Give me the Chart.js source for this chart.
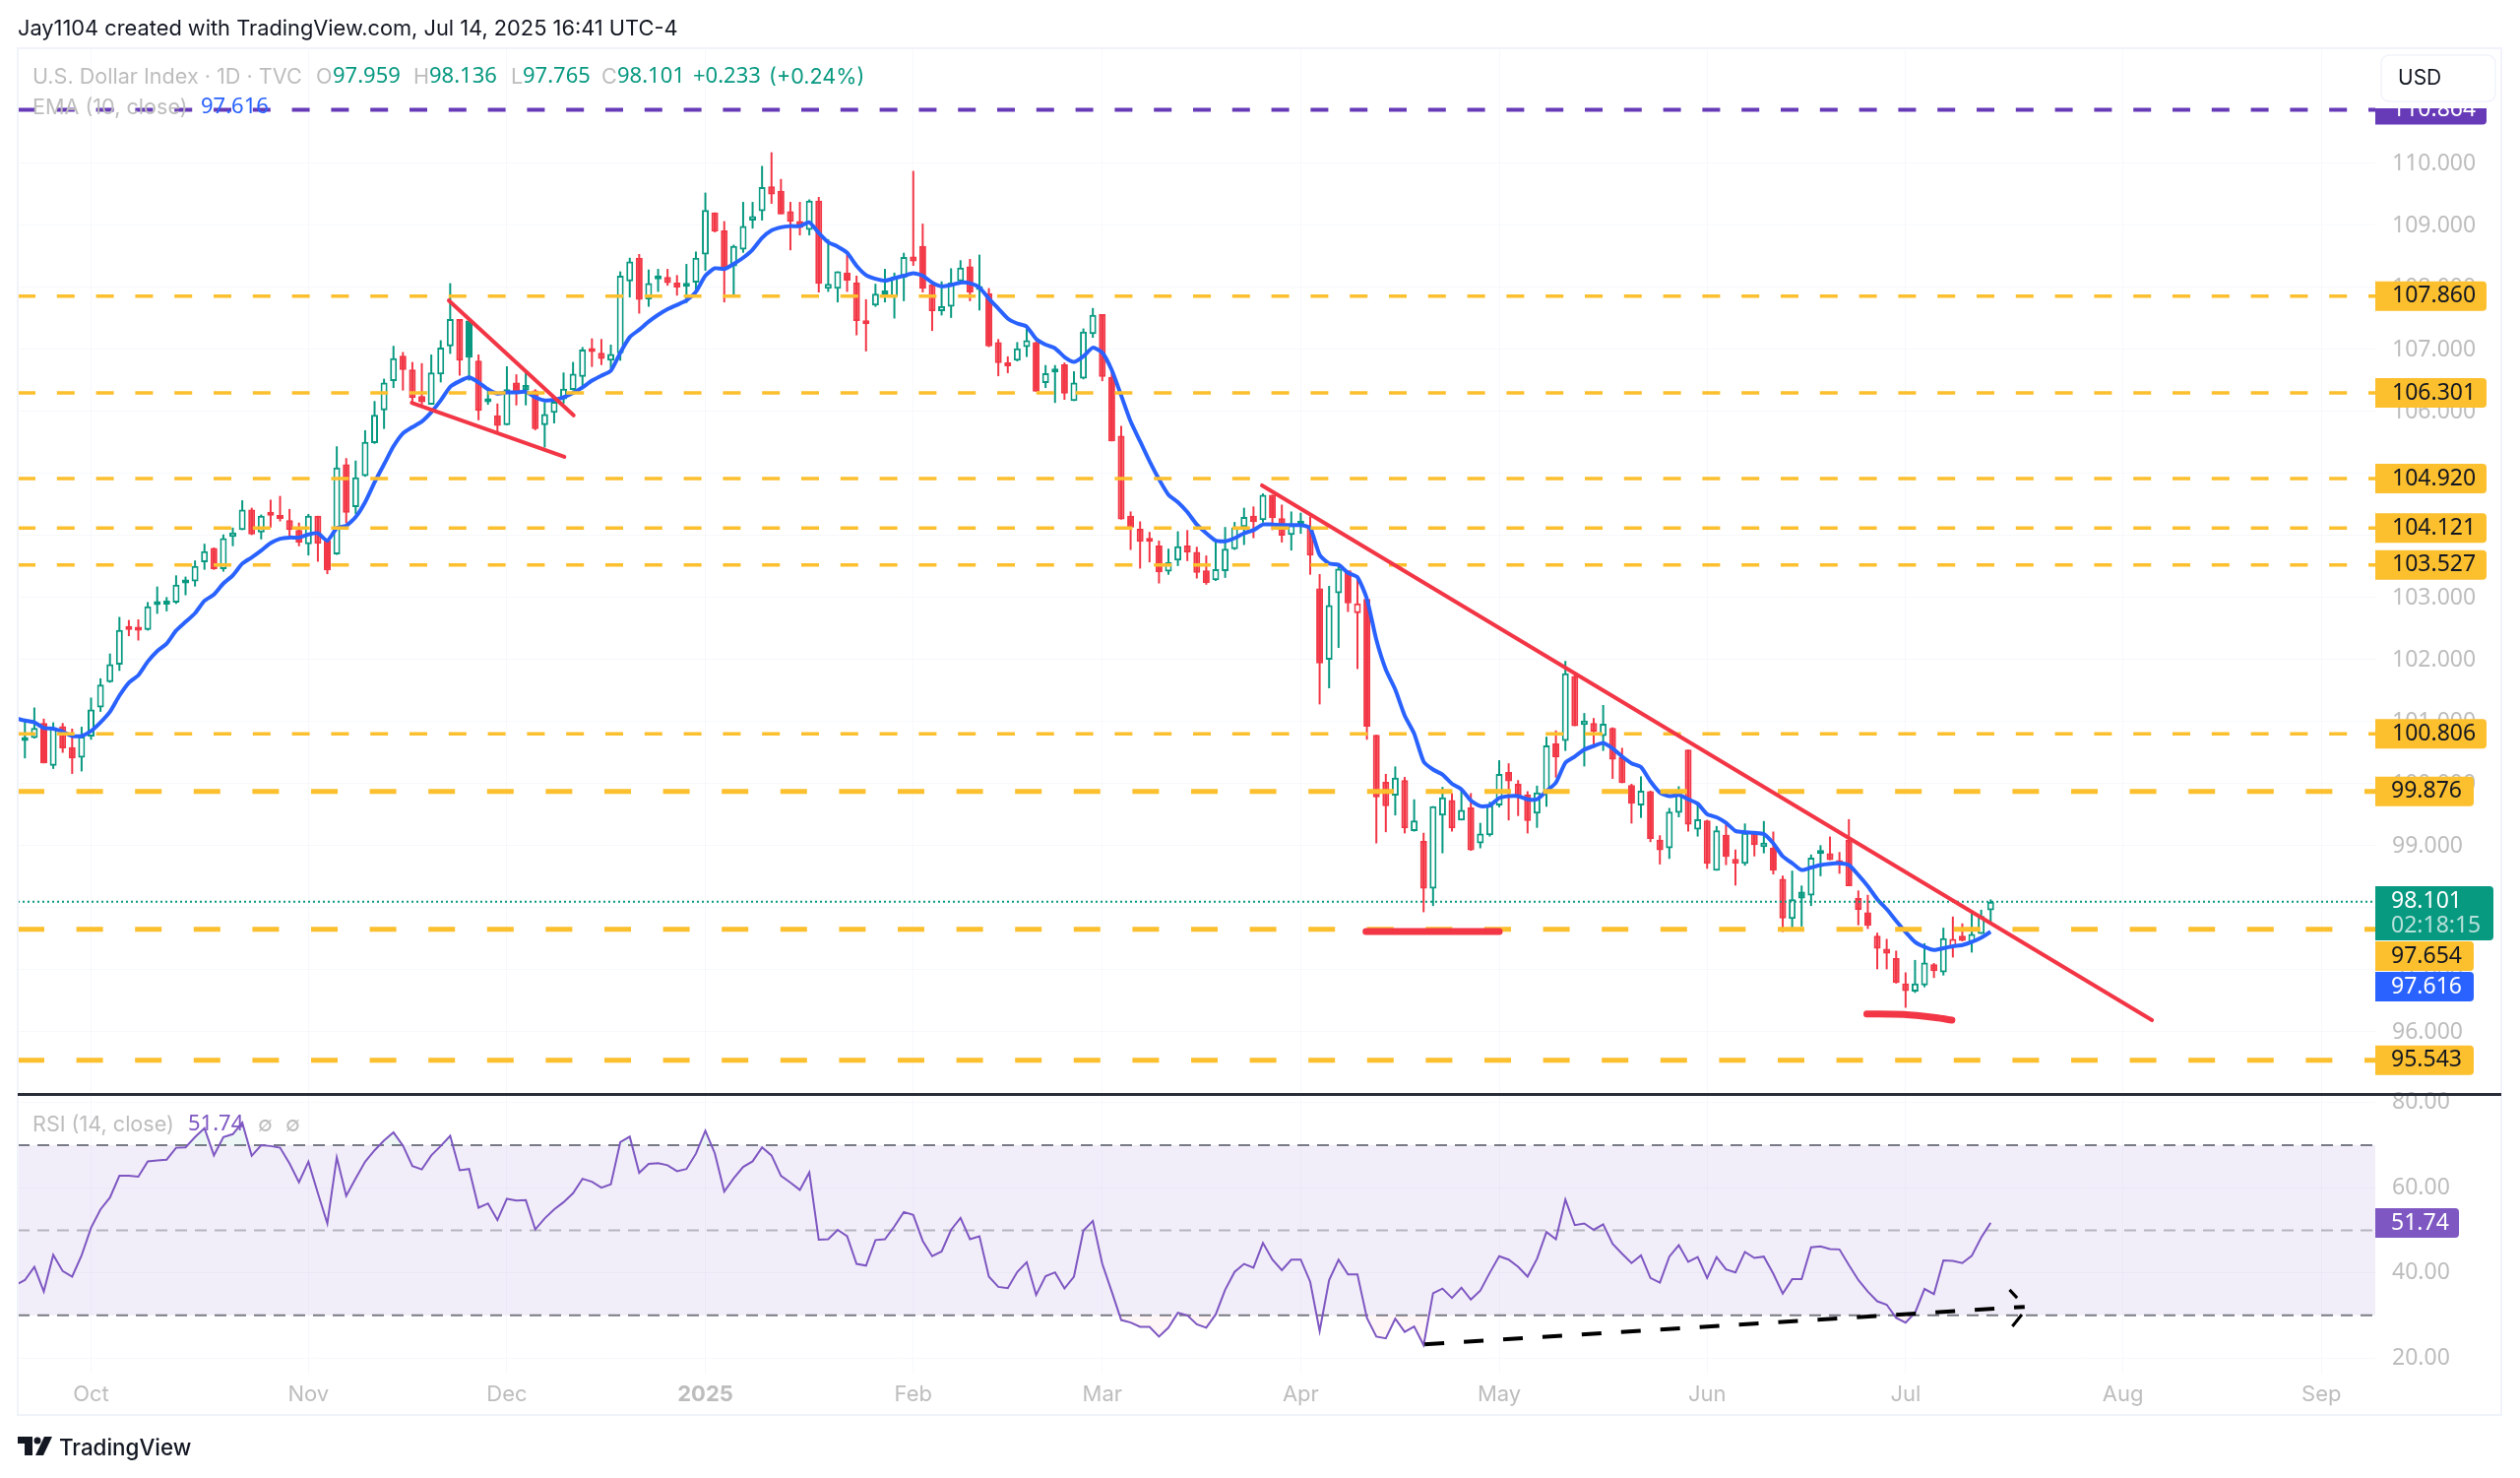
<!DOCTYPE html>
<html lang="en">
<head>
  <meta charset="UTF-8">
  <title>U.S. Dollar Index - TradingView</title>
  <script src="https://cdn.jsdelivr.net/npm/chart.js"></script>
  <style>
    html, body { margin: 0; padding: 0; background: #fff; }
    canvas { display: block; }
  </style>
</head>
<body>
  <canvas id="chart" width="2560" height="1501"></canvas>

  <script>
    // first entry of the series below is the bar cut off by the left edge
    const firstBar = -1;

    const opens = [101.02,
      100.69,100.74,100.98,100.29,100.93,100.59,100.42,100.76,101.23,101.64,
      101.92,102.50,102.49,102.48,102.88,102.89,102.92,103.23,103.26,103.57,
      103.80,103.46,103.98,104.09,104.42,104.05,104.34,104.30,104.25,104.09,
      103.86,104.32,103.92,103.70,105.15,104.46,104.96,105.49,106.02,106.49,
      106.90,106.68,106.25,106.11,106.60,107.05,107.49,107.47,106.82,106.15,
      105.94,105.78,106.47,106.43,106.34,105.78,105.98,106.20,106.35,106.56,
      106.98,106.95,106.82,106.94,108.10,108.48,107.81,108.13,108.17,108.08,
      108.01,108.08,108.53,109.21,108.92,108.34,108.61,109.08,109.23,109.63,
      109.56,109.23,109.07,108.93,109.40,107.98,107.98,108.24,108.08,107.47,
      107.71,107.94,107.85,108.16,108.50,108.67,108.05,107.62,107.69,108.10,
      108.34,108.02,107.91,107.12,106.79,106.82,107.04,107.12,106.46,106.63,
      106.76,106.17,106.53,107.25,107.57,106.56,105.61,104.32,104.11,103.92,
      103.84,103.42,103.60,103.84,103.74,103.44,103.28,103.43,103.78,104.14,
      104.32,104.25,104.66,104.28,104.01,104.18,104.14,103.15,102.00,103.07,
      103.44,102.75,102.98,100.79,100.03,99.81,100.06,99.24,99.08,98.31,
      99.49,99.74,99.41,99.62,99.04,99.17,99.65,100.19,100.00,99.83,
      99.52,99.85,100.65,100.69,101.74,100.95,100.98,100.77,100.90,100.43,
      99.98,99.65,99.88,99.10,98.96,99.53,100.55,99.26,99.41,98.60,
      99.18,98.79,98.71,99.21,98.98,98.97,98.47,97.82,98.26,98.20,
      98.87,98.88,98.69,99.10,98.16,97.93,97.55,97.34,97.19,96.78,
      96.65,96.75,97.09,96.96,97.36,97.55,97.45,97.58,97.959];

    const closes = [100.62,
      100.74,100.90,100.33,100.90,100.57,100.41,100.76,101.20,101.60,101.93,
      102.48,102.48,102.47,102.86,102.90,102.91,103.21,103.25,103.51,103.75,
      103.46,103.96,104.05,104.42,104.02,104.32,104.32,104.27,104.09,103.89,
      104.32,103.87,103.44,105.10,104.37,104.94,105.51,105.95,106.47,106.86,
      106.67,106.22,106.15,106.63,107.03,107.49,106.82,106.87,106.01,106.16,
      105.77,106.36,106.32,106.34,105.72,105.96,106.16,106.37,106.61,107.00,
      106.96,106.85,106.93,108.19,108.42,107.80,108.07,108.15,108.07,108.00,
      108.06,108.48,109.25,108.90,108.28,108.67,108.99,109.15,109.62,109.50,
      109.18,109.06,108.96,109.40,108.06,108.06,108.26,108.11,107.46,107.41,
      107.90,107.89,108.18,108.49,108.42,107.98,107.62,107.70,108.08,108.32,
      107.92,107.96,107.05,106.78,106.73,107.02,107.15,106.32,106.62,106.69,
      106.29,106.47,107.29,107.56,106.56,105.52,104.26,104.13,103.90,103.90,
      103.41,103.57,103.83,103.73,103.40,103.24,103.46,103.79,104.13,104.30,
      104.22,104.66,104.28,104.00,104.17,104.20,103.68,101.94,102.88,103.47,
      102.91,102.91,100.92,99.78,99.64,100.10,99.28,99.41,98.31,99.64,
      99.78,99.28,99.58,98.93,99.20,99.65,100.16,100.04,99.78,99.40,
      99.86,100.62,100.43,101.78,100.93,101.02,100.84,100.97,100.39,100.01,
      99.68,99.89,99.11,98.93,99.55,99.87,99.34,99.43,98.71,99.25,
      98.82,98.71,99.21,99.01,99.05,98.60,97.83,98.14,98.15,98.81,
      98.88,98.77,98.77,98.35,97.97,97.71,97.34,97.26,96.79,96.66,
      96.78,97.12,96.98,97.51,97.50,97.47,97.58,97.87,98.101];

    const highs = [101.05,
      101.05,101.23,101.05,100.99,100.98,100.89,100.92,101.39,101.70,102.10,
      102.69,102.64,102.65,102.93,103.18,103.01,103.36,103.34,103.60,103.87,
      103.81,104.02,104.13,104.57,104.45,104.34,104.58,104.64,104.43,104.21,
      104.35,104.32,103.93,105.44,105.25,105.21,105.70,106.17,106.53,107.06,
      106.96,106.80,106.78,106.92,107.15,108.07,107.49,107.50,106.92,106.39,
      106.13,106.73,106.60,106.63,106.36,106.15,106.20,106.63,106.80,107.04,
      107.18,107.17,107.08,108.26,108.48,108.54,108.29,108.30,108.30,108.20,
      108.38,108.58,109.53,109.21,109.07,108.69,109.38,109.38,109.96,110.18,
      109.75,109.38,109.38,109.42,109.46,108.78,108.26,108.53,108.19,107.81,
      108.06,108.30,108.24,108.56,109.88,109.03,108.06,108.10,108.31,108.44,
      108.46,108.53,107.99,107.17,106.89,107.12,107.37,107.13,106.75,106.75,
      106.79,106.65,107.34,107.67,107.57,106.66,105.77,104.39,104.23,104.06,
      103.92,103.79,104.07,104.09,103.82,103.68,103.92,104.14,104.22,104.45,
      104.47,104.68,104.66,104.50,104.39,104.37,104.31,103.38,103.19,103.51,
      103.44,103.32,103.01,100.79,100.16,100.28,100.11,99.75,99.21,99.64,
      99.95,99.85,99.89,99.85,99.37,99.71,100.38,100.33,100.06,99.88,
      99.97,100.76,100.86,101.98,101.78,101.14,101.06,101.27,100.91,100.58,
      100.00,100.12,99.89,99.17,99.61,99.96,100.55,99.67,99.42,99.32,
      99.39,98.94,99.36,99.21,99.40,99.23,98.52,98.60,98.36,98.86,
      99.01,99.15,98.90,99.43,98.28,98.21,97.60,97.50,97.31,96.96,
      97.16,97.43,97.11,97.68,97.86,97.75,97.93,97.97,98.136];

    const lows = [100.62,
      100.41,100.73,100.33,100.24,100.50,100.16,100.20,100.71,101.16,101.63,
      101.82,102.38,102.31,102.47,102.74,102.78,102.90,103.04,103.18,103.45,
      103.45,103.42,103.83,104.09,104.01,103.94,104.13,104.23,103.98,103.83,
      103.68,103.58,103.38,103.69,104.20,104.35,104.95,105.48,105.72,106.38,
      106.34,106.15,106.08,106.11,106.47,106.93,106.58,106.50,105.86,106.11,
      105.65,105.78,106.10,106.10,105.70,105.42,105.81,106.13,106.34,106.36,
      106.72,106.75,106.70,106.82,107.84,107.58,107.69,107.93,108.03,107.87,
      107.75,107.90,108.27,108.89,107.76,107.86,108.56,108.95,109.08,109.35,
      109.18,108.60,108.84,108.84,107.92,107.93,107.76,107.93,107.23,106.97,
      107.69,107.76,107.50,107.78,108.35,107.92,107.30,107.55,107.51,108.07,
      107.78,107.63,107.04,106.57,106.62,106.81,106.88,106.32,106.38,106.14,
      106.19,106.17,106.52,107.19,106.49,105.52,104.26,103.77,103.47,103.57,
      103.23,103.37,103.51,103.59,103.31,103.21,103.27,103.32,103.77,103.85,
      103.96,104.21,104.09,103.89,103.76,104.03,103.37,101.28,101.54,102.19,
      102.77,101.85,100.71,99.04,99.22,99.49,99.20,99.23,97.93,98.03,
      98.88,99.23,99.41,98.92,98.96,99.15,99.62,99.41,99.48,99.20,
      99.29,99.63,100.10,100.53,100.93,100.28,100.58,100.53,100.08,100.01,
      99.36,99.45,99.06,98.70,98.79,99.46,99.23,99.15,98.63,98.60,
      98.69,98.36,98.68,98.83,98.88,98.54,97.61,97.65,97.70,98.03,
      98.51,98.77,98.55,98.35,97.72,97.66,97.01,97.01,96.78,96.39,
      96.63,96.72,96.87,96.91,97.20,97.46,97.28,97.58,97.765];

    // bars where colour follows the previous close instead of open/close (solid green, hollow red)
    const offColourBars = [47, 53, 91, 101, 141, 188, 192, 204];

    const emaValues = [101.06,
      101.02,100.99,100.90,100.89,100.84,100.77,100.77,100.85,100.99,101.16,
      101.42,101.63,101.75,101.97,102.14,102.26,102.47,102.61,102.75,102.95,
      103.05,103.23,103.36,103.55,103.65,103.76,103.88,103.95,103.97,103.97,
      104.02,104.04,103.92,104.12,104.16,104.30,104.54,104.86,105.15,105.44,
      105.65,105.75,105.84,105.99,106.18,106.40,106.49,106.55,106.47,106.36,
      106.29,106.31,106.31,106.32,106.23,106.18,106.19,106.23,106.30,106.39,
      106.50,106.58,106.66,106.95,107.20,107.32,107.45,107.56,107.65,107.72,
      107.79,107.93,108.19,108.31,108.30,108.38,108.48,108.61,108.80,108.92,
      108.97,108.99,108.99,109.05,108.88,108.73,108.66,108.56,108.35,108.20,
      108.14,108.11,108.15,108.19,108.23,108.19,108.08,108.02,108.04,108.08,
      108.07,108.00,107.82,107.66,107.50,107.42,107.37,107.17,107.08,107.02,
      106.88,106.80,106.89,107.03,106.95,106.67,106.26,105.84,105.52,105.20,
      104.91,104.66,104.54,104.38,104.18,104.04,103.92,103.91,103.96,104.04,
      104.09,104.18,104.18,104.17,104.17,104.17,104.12,103.69,103.55,103.53,
      103.40,103.33,102.98,102.32,101.84,101.52,101.10,100.81,100.36,100.23,
      100.15,100.00,99.91,99.73,99.64,99.65,99.77,99.80,99.80,99.75,
      99.75,99.88,100.02,100.34,100.44,100.55,100.61,100.66,100.57,100.44,
      100.33,100.27,100.04,99.86,99.80,99.82,99.75,99.68,99.51,99.46,
      99.37,99.24,99.22,99.21,99.19,99.04,98.83,98.72,98.61,98.65,
      98.69,98.71,98.72,98.69,98.53,98.35,98.14,97.98,97.79,97.61,
      97.45,97.37,97.32,97.35,97.38,97.40,97.45,97.52,97.616];

    const rsiValues = [37.1,
      38.3,41.4,35.6,44.2,40.4,39.1,44.1,50.6,54.9,57.7,
      62.8,62.8,62.6,66.2,66.4,66.6,69.4,69.5,71.9,74.0,
      67.6,71.9,72.6,75.3,67.5,70.0,69.8,69.4,65.7,61.3,
      66.1,58.7,51.6,67.1,58.1,62.2,66.1,68.8,71.1,73.0,
      69.9,65.1,64.3,67.6,69.8,72.2,64.1,64.4,55.3,56.3,
      52.4,57.4,57.0,57.1,50.2,52.8,54.9,56.6,58.7,62.1,
      61.4,60.0,60.8,70.7,72.0,63.5,65.6,65.8,65.3,63.9,
      64.4,68.0,73.4,68.1,59.1,62.2,64.9,66.2,69.5,67.6,
      62.8,61.2,59.5,63.6,47.8,47.9,50.1,48.6,42.1,41.7,
      47.7,47.9,50.9,54.3,53.6,47.5,43.9,45.0,50.1,52.9,
      47.9,48.6,39.1,36.7,36.4,40.2,42.5,34.8,39.2,40.1,
      36.3,39.1,49.9,52.2,42.1,35.6,28.9,28.3,27.3,27.3,
      25.0,27.1,30.6,30.0,27.9,27.1,30.2,36.0,40.2,42.1,
      41.2,47.0,43.1,40.6,43.1,43.1,37.9,26.3,38.3,43.1,
      39.6,39.6,29.4,25.0,24.6,29.2,26.1,27.4,23.0,35.2,
      36.3,34.1,36.5,33.7,35.8,40.0,43.9,43.1,41.4,39.1,
      43.3,49.6,47.9,57.2,51.2,51.6,50.1,51.4,46.8,44.5,
      42.3,44.1,38.8,37.7,43.8,46.5,42.6,43.7,38.8,43.7,
      40.8,40.1,44.9,43.5,43.8,39.8,35.1,38.5,38.5,46.0,
      46.2,45.6,45.5,41.8,38.3,35.6,33.3,32.5,29.4,28.3,
      30.6,36.2,35.0,42.9,42.8,42.3,44.0,48.3,51.74];

    const thinLevels = [107.860, 106.301, 104.920, 104.121, 103.527, 100.806];
    const heavyLevels = [99.876, 97.654, 95.543];
    const topLevel = 110.864;
    const lastPrice = 98.101;
    const rsiBands = [70, 50, 30];

    const priceTicks = [96, 97, 98, 99, 100, 101, 102, 103, 104, 105, 106, 107, 108, 109, 110];
    const rsiTicks = [20, 40, 60, 80];
    const monthBars = [7, 30, 51, 72, 94, 114, 135, 156, 178, 199, 222, 243];
    const monthNames = ['Oct', 'Nov', 'Dec', '2025', 'Feb', 'Mar', 'Apr', 'May', 'Jun', 'Jul', 'Aug', 'Sep'];

    // drawings, as [bar, value] pairs
    const downTrend = [[130.9, 104.81], [225.07, 96.19]];
    const wedgeUpper = [[44.86, 107.79], [58.06, 105.94]];
    const wedgeLower = [[40.94, 106.14], [57.08, 105.27]];
    const supportApril = [[141.9, 97.62], [156.0, 97.62]];
    const supportJuly = [[194.9, 96.29], [198.8, 96.28], [202.2, 96.23], [203.9, 96.19]];
    const rsiRising = [[148.1, 23.2], [211.6, 32.0]];
    const rsiArrowUp = [[210.0, 36.0], [210.8, 34.1]];
    const rsiArrowDown = [[211.3, 30.2], [210.3, 27.4]];

    const GREEN = '#089981';
    const RED = '#f23645';
    const BLUE = '#2962ff';
    const GOLD = '#fcbf2d';
    const PURPLE = '#673ab7';
    const RSI_PURPLE = '#7e57c2';
    const GREY = '#bdbdbd';
    const INK = '#131722';
    const FONT = 'Inter, "Liberation Sans", sans-serif';
    const NUM_FONT = '"Noto Sans", Inter, sans-serif';   // even digit widths

    const xMin = -0.76;
    const xMax = 248.7;

    const barNumbers = opens.map((_, i) => i + firstBar);
    const candleColours = barNumbers.map((bar, i) => {
      const rising = closes[i] > opens[i];
      const flipped = offColourBars.includes(bar);
      return rising !== flipped ? GREEN : RED;
    });
    const bodyFills = candleColours.map((colour, i) => closes[i] > opens[i] ? '#ffffff' : colour);

    function lineSet(points, axis, colour, width, dash, order, extra) {
      return Object.assign({
        type: 'line',
        data: points.map(p => ({ x: p[0], y: p[1] })),
        yAxisID: axis,
        borderColor: colour,
        borderWidth: width,
        borderDash: dash,
        pointRadius: 0,
        tension: 0,
        fill: false,
        order: order
      }, extra || {});
    }

    function levelSet(value, axis, colour, width, dash, order, extra) {
      return lineSet([[xMin, value], [xMax, value]], axis, colour, width, dash, order, extra);
    }

    const datasets = [];

    // candles
    datasets.push({
      type: 'bar',
      data: barNumbers.map((bar, i) => ({ x: bar, y: [lows[i], highs[i]] })),
      yAxisID: 'y',
      grouped: false,
      barThickness: 2,
      inflateAmount: 0,
      backgroundColor: candleColours,
      order: 6
    });
    datasets.push({
      type: 'bar',
      data: barNumbers.map((bar, i) => ({ x: bar, y: [opens[i], closes[i]] })),
      yAxisID: 'y',
      grouped: false,
      barThickness: 7,
      minBarLength: 4,
      inflateAmount: 0,
      borderWidth: 2,
      borderSkipped: false,
      borderColor: candleColours,
      backgroundColor: bodyFills,
      order: 5
    });

    datasets.push(lineSet(barNumbers.map((bar, i) => [bar, emaValues[i]]), 'y', BLUE, 4, [], 4, { tension: 0.2 }));

    thinLevels.forEach(v => datasets.push(levelSet(v, 'y', GOLD, 3.5, [18, 21.8], 3)));
    heavyLevels.forEach(v => datasets.push(levelSet(v, 'y', GOLD, 5, [27, 32.6], 3)));
    datasets.push(levelSet(topLevel, 'y', PURPLE, 4, [18, 21.8], 3));
    datasets.push(levelSet(lastPrice, 'y', GREEN, 2, [2, 3], 3));

    [downTrend, wedgeUpper, wedgeLower].forEach(t => datasets.push(lineSet(t, 'y', RED, 4, [], 2, { borderCapStyle: 'round' })));
    datasets.push(lineSet(supportApril, 'y', RED, 7, [], 2, { borderCapStyle: 'round' }));
    datasets.push(lineSet(supportJuly, 'y', RED, 7, [], 2, { borderCapStyle: 'round', tension: 0.3 }));

    // RSI pane
    const rsiPoints = barNumbers.map((bar, i) => [bar, rsiValues[i]]);
    datasets.push(levelSet(rsiBands[0], 'rsi', '#787b86', 2, [12, 8], 9, {
      fill: { target: { value: rsiBands[2] } },
      backgroundColor: 'rgba(126,87,194,0.1)'
    }));
    datasets.push(levelSet(rsiBands[1], 'rsi', 'rgba(120,123,134,0.5)', 2, [12, 8], 8));
    datasets.push(levelSet(rsiBands[2], 'rsi', '#787b86', 2, [12, 8], 8));
    datasets.push(lineSet(rsiPoints, 'rsi', 'rgba(0,0,0,0)', 0, [], 7, {
      fill: { target: { value: rsiBands[0] }, above: 'rgba(8,153,129,0.08)', below: 'rgba(0,0,0,0)' }
    }));
    datasets.push(lineSet(rsiPoints, 'rsi', 'rgba(0,0,0,0)', 0, [], 7, {
      fill: { target: { value: rsiBands[2] }, above: 'rgba(0,0,0,0)', below: 'rgba(242,54,69,0.05)' }
    }));
    datasets.push(lineSet(rsiPoints, 'rsi', RSI_PURPLE, 2, [], 2));
    datasets.push(lineSet(rsiRising, 'rsi', '#000000', 4, [20, 20], 1));
    datasets.push(lineSet(rsiArrowUp, 'rsi', '#000000', 3, [], 1));
    datasets.push(lineSet(rsiArrowDown, 'rsi', '#000000', 3, [], 1));

    function text(ctx, str, x, y, colour, size, weight, family) {
      ctx.font = (weight || '400') + ' ' + size + 'px ' + (family || FONT);
      ctx.fillStyle = colour;
      ctx.textAlign = 'left';
      ctx.textBaseline = 'middle';
      ctx.fillText(str, x, y);
    }

    function num(ctx, str, x, y, colour, size) {
      text(ctx, str, x, y, colour, size, '400', NUM_FONT);
    }

    function tag(ctx, y, width, height, fill) {
      ctx.fillStyle = fill;
      ctx.beginPath();
      ctx.roundRect(2413, y - height / 2, width, height, [0, 4, 4, 0]);
      ctx.fill();
    }

    const chromePlugin = {
      id: 'chrome',
      afterDraw(chart) {
        const ctx = chart.ctx;
        const py = v => chart.scales.y.getPixelForValue(v);
        ctx.save();

        // frame and pane separator
        ctx.strokeStyle = '#f0f3fa';
        ctx.lineWidth = 2;
        ctx.strokeRect(18, 49, 2523, 1388);
        ctx.fillStyle = '#2a2e39';
        ctx.fillRect(18, 1110, 2523, 3);

        // price tags
        thinLevels.forEach(v => {
          tag(ctx, py(v), 113, 30, GOLD);
          num(ctx, v.toFixed(3), 2430, py(v), INK, 23);
        });
        tag(ctx, py(topLevel), 113, 30, PURPLE);
        num(ctx, topLevel.toFixed(3), 2430, py(topLevel), '#ffffff', 23);
        tag(ctx, py(heavyLevels[0]), 100, 30, GOLD);
        num(ctx, heavyLevels[0].toFixed(3), 2429, py(heavyLevels[0]), INK, 23);
        tag(ctx, py(heavyLevels[2]), 100, 30, GOLD);
        num(ctx, heavyLevels[2].toFixed(3), 2429, py(heavyLevels[2]), INK, 23);

        tag(ctx, 927.5, 120, 55, GREEN);
        num(ctx, lastPrice.toFixed(3), 2429, 915, '#ffffff', 23);
        num(ctx, '02:18:15', 2429, 940, '#b5e0d8', 23);
        tag(ctx, 971, 100, 30, GOLD);
        num(ctx, heavyLevels[1].toFixed(3), 2429, 971, INK, 23);
        tag(ctx, 1002, 100, 30, BLUE);
        num(ctx, emaValues[emaValues.length - 1].toFixed(3), 2429, 1002, '#ffffff', 23);

        const rsiLast = rsiValues[rsiValues.length - 1];
        tag(ctx, 1242, 85, 30, RSI_PURPLE);
        num(ctx, rsiLast.toFixed(2), 2429, 1242, '#ffffff', 23);

        // currency button covers the top of the purple tag
        ctx.fillStyle = '#ffffff';
        ctx.fillRect(2413, 51, 126, 59);
        ctx.strokeStyle = '#f0f3fa';
        ctx.lineWidth = 1.5;
        ctx.beginPath();
        ctx.roundRect(2419, 56, 116, 47, 8);
        ctx.stroke();
        text(ctx, 'USD', 2436, 80, INK, 21);

        // legends
        text(ctx, 'U.S. Dollar Index · 1D · TVC', 33, 78, GREY, 21.6);
        text(ctx, 'O', 321, 78, GREY, 21.6);
        num(ctx, '97.959', 338, 78, GREEN, 22);
        text(ctx, 'H', 420, 78, GREY, 21.6);
        num(ctx, '98.136', 436, 78, GREEN, 22);
        text(ctx, 'L', 519, 78, GREY, 21.6);
        num(ctx, '97.765', 531, 78, GREEN, 22);
        text(ctx, 'C', 611, 78, GREY, 21.6);
        num(ctx, '98.101', 627, 78, GREEN, 22);
        num(ctx, '+0.233', 704, 78, GREEN, 22);
        text(ctx, '(+0.24%)', 781, 78, GREEN, 21.6);
        text(ctx, 'EMA (10, close)', 33, 109, GREY, 21.6);
        num(ctx, '97.616', 204, 109, BLUE, 22);
        text(ctx, 'RSI (14, close)', 33, 1142, GREY, 21.6);
        num(ctx, '51.74', 191, 1142, RSI_PURPLE, 22);
        text(ctx, '∅', 262, 1142, GREY, 21.6);
        text(ctx, '∅', 290, 1142, GREY, 21.6);

        // header and footer
        text(ctx, 'Jay1104 created with TradingView.com, Jul 14, 2025 16:41 UTC-4', 18, 29, INK, 21.8);
        text(ctx, 'TradingView', 60, 1471, INK, 22.4, '500');
        ctx.fillStyle = INK;
        ctx.fillRect(18, 1459, 15, 7);
        ctx.fillRect(25, 1459, 8, 19);
        ctx.beginPath();
        ctx.arc(38, 1463, 3.5, 0, Math.PI * 2);
        ctx.fill();
        ctx.beginPath();
        ctx.moveTo(45, 1459);
        ctx.lineTo(53, 1459);
        ctx.lineTo(44, 1478);
        ctx.lineTo(36, 1478);
        ctx.closePath();
        ctx.fill();

        ctx.restore();
      }
    };

    const faintGrid = { color: 'rgba(240,243,250,0.55)', drawTicks: false };

    new Chart(document.getElementById('chart').getContext('2d'), {
      type: 'bar',
      data: { datasets: datasets },
      plugins: [chromePlugin],
      options: {
        responsive: false,
        animation: false,
        devicePixelRatio: 1,
        layout: { padding: { left: 18, top: 49, right: 0, bottom: 0 } },
        plugins: { legend: { display: false }, tooltip: { enabled: false } },
        scales: {
          x: {
            type: 'linear',
            offset: false,
            min: xMin,
            max: xMax,
            grid: Object.assign({ offset: false }, faintGrid),
            border: { display: false },
            afterBuildTicks: scale => { scale.ticks = monthBars.map(v => ({ value: v })); },
            afterFit: scale => { scale.height = 106; },
            ticks: {
              autoSkip: false,
              maxRotation: 0,
              padding: 8,
              font: ctx => ({ family: FONT, size: 22, weight: ctx.tick && monthNames[monthBars.indexOf(ctx.tick.value)] === '2025' ? '700' : '400' }),
              color: GREY,
              callback: v => monthNames[monthBars.indexOf(v)]
            }
          },
          y: {
            axis: 'y',
            position: 'right',
            stack: 'panes',
            stackWeight: 1062,
            min: 95,
            max: 111.857,
            grid: faintGrid,
            border: { display: false },
            afterBuildTicks: scale => { scale.ticks = priceTicks.map(v => ({ value: v })); },
            afterFit: scale => { scale.width = 147; },
            ticks: {
              autoSkip: false,
              padding: 17,
              font: { family: NUM_FONT, size: 23 },
              color: GREY,
              callback: v => v.toFixed(3)
            }
          },
          rsi: {
            axis: 'y',
            position: 'right',
            stack: 'panes',
            stackWeight: 284,
            min: 16.3,
            max: 82.04,
            grid: faintGrid,
            border: { display: false },
            afterBuildTicks: scale => { scale.ticks = rsiTicks.map(v => ({ value: v })); },
            afterFit: scale => { scale.width = 147; },
            ticks: {
              autoSkip: false,
              padding: 17,
              font: { family: NUM_FONT, size: 23 },
              color: GREY,
              callback: v => v.toFixed(2)
            }
          }
        }
      }
    });
  </script>
</body>
</html>
